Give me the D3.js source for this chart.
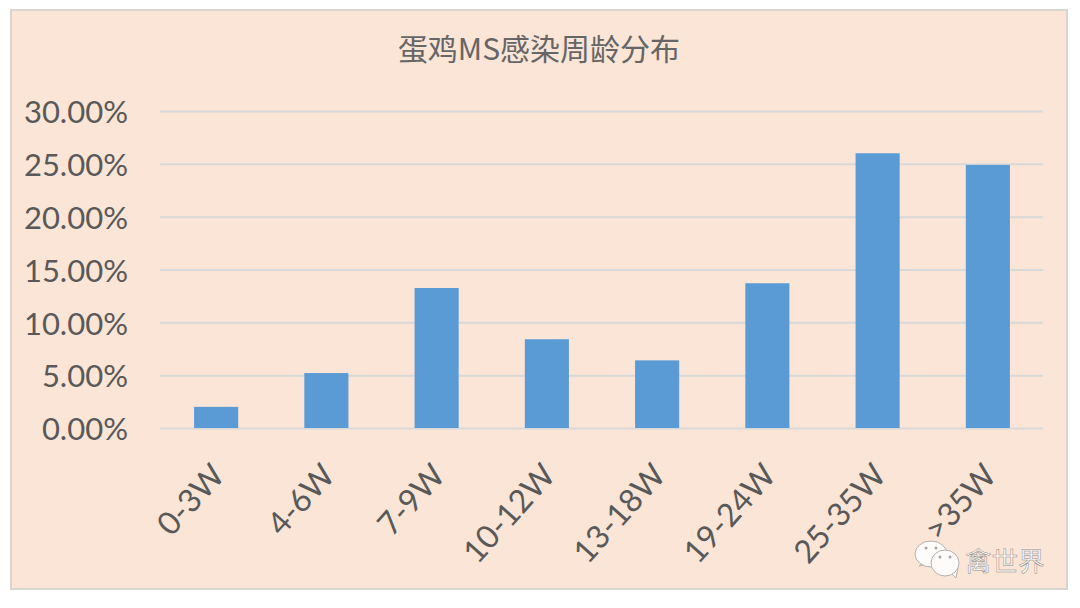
<!DOCTYPE html>
<html>
<head>
    <meta charset="utf-8">
    <script src="https://d3js.org/d3.v7.min.js"></script>
    <style>
        html, body { margin: 0; padding: 0; background: #fff; }
        svg { display: block; }
    </style>
</head>
<body>
    <svg width="1080" height="608"></svg>

    <script>
        var categories = ["0-3W", "4-6W", "7-9W", "10-12W", "13-18W", "19-24W", "25-35W", ">35W"];
        var values = [2.0, 5.2, 13.25, 8.4, 6.4, 13.7, 26.0, 24.9];
        var yTicks = [0, 5, 10, 15, 20, 25, 30];
        var title = "蛋鸡MS感染周龄分布";
        var watermark = "禽世界";

        var latin = "Lato, 'Noto Sans', sans-serif";
        var cjk = "'Noto Sans CJK SC', sans-serif";
        var textColor = "#595959";

        var svg = d3.select("svg");

        // chart panel
        svg.append("rect")
            .attr("x", 11).attr("y", 10)
            .attr("width", 1056).attr("height", 579)
            .attr("fill", "#fbe5d6")
            .attr("stroke", "#d9d6d2")
            .attr("stroke-width", 2);

        var x = d3.scaleBand()
            .domain(categories)
            .range([161, 1043])
            .paddingInner(0.6)
            .paddingOuter(0.3);

        var y = d3.scaleLinear()
            .domain([0, 30])
            .range([428, 111]);

        // gridlines and y labels
        var yAxis = d3.axisLeft(y)
            .tickValues(yTicks)
            .tickSize(-883)
            .tickPadding(32)
            .tickFormat(function(d) { return d.toFixed(2) + "%"; });

        var yG = svg.append("g")
            .attr("transform", "translate(160,0)")
            .call(yAxis);
        yG.select(".domain").remove();
        yG.selectAll("line")
            .attr("stroke", "#d9d9d9")
            .attr("stroke-width", 2);
        yG.selectAll("text")
            .attr("fill", textColor)
            .attr("dy", "0.38em")
            .style("font-family", latin)
            .style("font-size", "31px");

        svg.selectAll(".bar")
            .data(categories)
            .enter().append("rect")
            .attr("class", "bar")
            .attr("x", function(d) { return x(d); })
            .attr("y", function(d, i) { return y(values[i]); })
            .attr("width", x.bandwidth())
            .attr("height", function(d, i) { return y(0) - y(values[i]); })
            .attr("fill", "#5b9bd5");

        // rotated category labels
        var xAxis = d3.axisBottom(x).tickSize(0).tickPadding(0);
        var xG = svg.append("g")
            .attr("transform", "translate(0,428)")
            .call(xAxis);
        xG.select(".domain").remove();
        xG.selectAll("text")
            .attr("fill", textColor)
            .attr("text-anchor", "end")
            .attr("dy", "0.35em")
            .attr("transform", "translate(2,41) rotate(-48)")
            .style("font-family", latin)
            .style("font-size", "32px");

        svg.append("text")
            .attr("x", 539).attr("y", 60)
            .attr("text-anchor", "middle")
            .attr("fill", "#666")
            .style("font-family", cjk)
            .style("font-size", "30px")
            .text(title);

        // wechat style watermark
        var mark = svg.append("g").attr("fill", "#fefcfa").attr("stroke", "#b5b1ad").attr("stroke-width", 1);
        mark.append("path").attr("d", "M919 566 L928 559 L934 564 Z");
        mark.append("ellipse").attr("cx", 931).attr("cy", 554).attr("rx", 16).attr("ry", 13);
        mark.append("path").attr("d", "M948 570 L956 578 L958 568 Z");
        mark.append("ellipse").attr("cx", 945).attr("cy", 563).attr("rx", 14).attr("ry", 13);
        svg.selectAll(".eye")
            .data([[926, 548], [936, 548], [940, 557], [950, 557]])
            .enter().append("circle")
            .attr("class", "eye")
            .attr("cx", function(d) { return d[0]; })
            .attr("cy", function(d) { return d[1]; })
            .attr("r", 1.5)
            .attr("fill", "#a9a5a1");

        svg.append("text")
            .attr("x", 965).attr("y", 571)
            .attr("fill", "#fdfaf7")
            .attr("stroke", "#8f8b88")
            .attr("stroke-width", 0.5)
            .style("font-family", cjk)
            .style("font-size", "26.5px")
            .text(watermark);
    </script>
</body>
</html>
